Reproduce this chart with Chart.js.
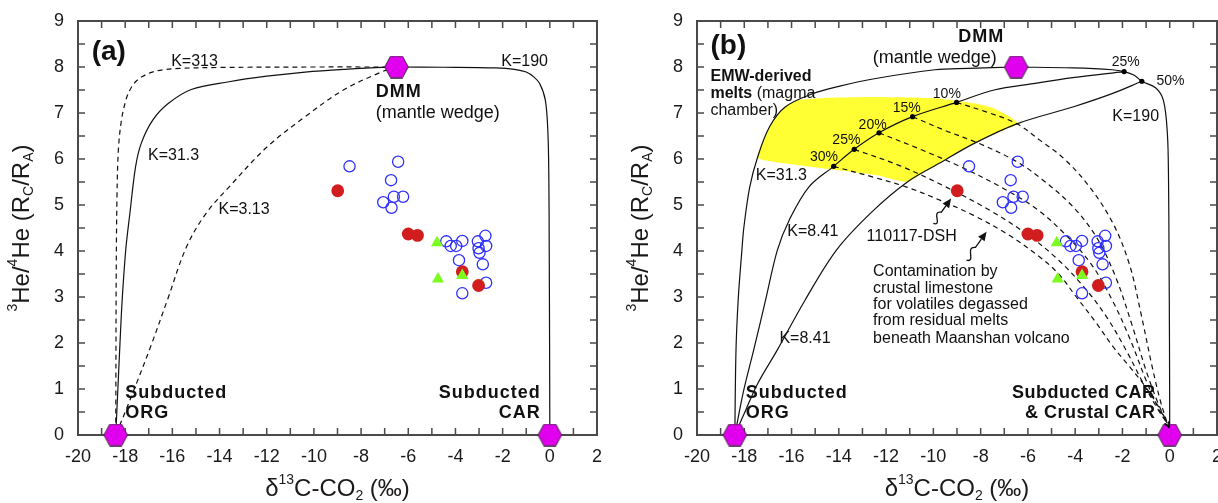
<!DOCTYPE html>
<html>
<head>
<meta charset="utf-8">
<script src="https://cdn.jsdelivr.net/npm/chart.js@4.4.0/dist/chart.umd.min.js"></script>
<style>
  html, body { margin: 0; padding: 0; background: #fff; overflow: hidden; }
  #wrap { position: relative; width: 1218px; height: 503px; overflow: hidden; }
  canvas { position: absolute; top: 0; }
  #chartA { left: 0; }
  #chartB { left: 609px; }
</style>
</head>
<body>
<div id="wrap">
  <canvas id="chartA" width="609" height="503"></canvas>
  <canvas id="chartB" width="620" height="503"></canvas>
</div>
<script>
const FAM = '"Liberation Sans", Arial, Helvetica, sans-serif';

// axis ticks
const xTickVals = [-20, -18, -16, -14, -12, -10, -8, -6, -4, -2, 0, 2];
const yTickVals = [0, 1, 2, 3, 4, 5, 6, 7, 8, 9];

// samples (same in both panels)
const blueX = [-8.49, -6.43, -6.73, -7.06, -6.61, -6.22, -6.71, -4.39, -4.2, -3.97, -3.71, -3.05, -2.73, -2.70, -3.02, -2.98, -3.85, -2.84, -2.70, -3.71];
const blueY = [5.84, 5.94, 5.54, 5.06, 5.18, 5.18, 4.94, 4.21, 4.11, 4.11, 4.22, 4.21, 4.33, 4.11, 4.06, 3.96, 3.80, 3.71, 3.31, 3.08];
const redX = [-8.99, -6.0, -5.61, -3.71, -3.02];
const redY = [5.31, 4.37, 4.34, 3.55, 3.25];
const greenX = [-4.78, -4.74, -3.71];
const greenY = [4.18, 3.39, 3.47];

// end members: DMM, ORG, CAR
const hexX = [-6.5, -18.4, 0];
const hexY = [8, 0, 0];

// panel (a) mixing curves
const k313A = [[-6.5, 8.0], [-10, 8.0], [-14, 7.99], [-15.7, 7.97], [-16.4, 7.94], [-16.85, 7.89], [-17.25, 7.8], [-17.56, 7.68], [-17.8, 7.5], [-17.97, 7.28], [-18.16, 6.84], [-18.29, 6.19], [-18.35, 5.1], [-18.38, 3.5], [-18.39, 2.0], [-18.4, 0]];
const k31A = [[-6.5, 8.0], [-7.14, 7.99], [-8.7, 7.95], [-10.37, 7.89], [-12.0, 7.8], [-13.6, 7.68], [-15.2, 7.51], [-16.19, 7.2], [-16.84, 6.84], [-17.32, 6.34], [-17.56, 5.83], [-17.8, 4.82], [-17.97, 4.06], [-18.12, 3.0], [-18.22, 2.0], [-18.31, 1.0], [-18.4, 0]];
const k3A = [[-6.5, 8.0], [-7.14, 7.89], [-8.75, 7.5], [-10.37, 6.92], [-11.99, 6.26], [-13.6, 5.39], [-14.57, 4.82], [-15.4, 4.09], [-16.2, 2.95], [-16.9, 1.95], [-17.5, 1.15], [-18.0, 0.5], [-18.4, 0]];
const k190A = [[-6.5, 8.0], [-4.5, 7.995], [-2.29, 7.98], [-1.5, 7.95], [-1.0, 7.89], [-0.67, 7.78], [-0.43, 7.64], [-0.19, 7.28], [-0.08, 6.56], [-0.04, 5.5], [-0.025, 4.0], [-0.01, 2.0], [0, 0]];

// panel (b) mixing curves
const k31B = [[-6.52, 8.0], [-8.5, 7.97], [-9.94, 7.94], [-12.44, 7.75], [-14.0, 7.58], [-15.1, 7.42], [-16.27, 7.13], [-16.93, 6.7], [-17.43, 6.05], [-17.77, 5.39], [-18.02, 4.5], [-18.1, 4.02], [-18.25, 3.0], [-18.35, 1.85], [-18.4, 0]];
const k190B = [[-6.52, 8.0], [-4.1, 7.98], [-2.44, 7.94], [-1.93, 7.9], [-1.5, 7.82], [-1.18, 7.69], [-0.6, 7.55], [-0.27, 7.28], [-0.1, 6.56], [-0.05, 5.5], [-0.03, 4.0], [-0.01, 2.0], [0, 0]];
const k841B1 = [[-18.4, 0], [-18.02, 0.98], [-17.6, 1.85], [-17.1, 2.93], [-16.6, 4.02], [-16.1, 4.67], [-15.27, 5.39], [-14.22, 5.84], [-13.35, 6.21], [-12.3, 6.57], [-10.88, 6.92], [-9.02, 7.23], [-7.43, 7.5], [-5.77, 7.64], [-4.1, 7.77], [-1.93, 7.9]];
const k841B2 = [[-18.4, 0], [-17.94, 0.54], [-17.43, 1.12], [-16.6, 1.85], [-15.43, 2.93], [-14.1, 4.02], [-12.6, 4.85], [-11.1, 5.5], [-9.77, 5.9], [-8.27, 6.34], [-6.44, 6.77], [-4.1, 7.13], [-2.44, 7.42], [-1.18, 7.69]];
const d10 = [[-9.02, 7.23], [-7.8, 7.03], [-6.48, 6.77], [-5.5, 6.41], [-4.5, 6.02], [-3.4, 5.4], [-2.4, 4.6], [-1.7, 3.7], [-1.2, 2.6], [-0.75, 1.5], [-0.4, 0.75], [-0.1, 0.25]];
const d15 = [[-10.88, 6.92], [-9.5, 6.62], [-8.03, 6.33], [-6.5, 5.95], [-5.36, 5.54], [-4.09, 4.96], [-3.1, 4.3], [-2.3, 3.45], [-1.6, 2.4], [-1.0, 1.4], [-0.5, 0.7], [-0.1, 0.25]];
const d20 = [[-12.3, 6.57], [-10.5, 6.2], [-8.8, 5.82], [-7.0, 5.35], [-5.6, 4.9], [-4.4, 4.35], [-3.3, 3.7], [-2.4, 2.9], [-1.65, 2.05], [-1.05, 1.25], [-0.5, 0.6], [-0.1, 0.25]];
const d25 = [[-13.35, 6.21], [-11.4, 5.85], [-9.5, 5.4], [-7.6, 4.88], [-6.0, 4.35], [-4.7, 3.8], [-3.6, 3.2], [-2.65, 2.55], [-1.8, 1.8], [-1.15, 1.15], [-0.55, 0.6], [-0.1, 0.25]];
const d30 = [[-14.22, 5.84], [-12.5, 5.6], [-11.13, 5.39], [-9.7, 5.1], [-8.32, 4.78], [-6.91, 4.38], [-5.5, 3.87], [-4.7, 3.5], [-3.95, 3.0], [-3.1, 2.43], [-2.4, 1.92], [-1.69, 1.48], [-1.13, 1.12], [-0.56, 0.69], [-0.1, 0.25]];
const pctX = [-9.02, -10.88, -12.3, -13.35, -14.22, -1.93, -1.18];
const pctY = [7.23, 6.92, 6.57, 6.21, 5.84, 7.9, 7.69];
const yellow = [[-15.8, 7.28], [-14.5, 7.33], [-12.44, 7.35], [-9.94, 7.32], [-8.27, 7.21], [-7.43, 7.1], [-6.77, 6.92], [-6.44, 6.77],
  [-7.3, 6.57], [-8.27, 6.34], [-9.0, 6.13], [-9.77, 5.9], [-10.45, 5.7], [-11.1, 5.5], [-12.44, 5.65], [-14.1, 5.76], [-15.77, 5.87], [-17.43, 6.02],
  [-17.2, 6.4], [-16.93, 6.7], [-16.6, 6.95], [-16.27, 7.13], [-15.8, 7.28]];

// text annotations
const labelsA = [
  { t: '(a)', x: -19.42, y: 8.33, size: 28, bold: true, align: 'left' },
  { t: 'K=313', x: -15.06, y: 8.12 },
  { t: 'K=190', x: -1.07, y: 8.12 },
  { t: 'DMM', x: -7.38, y: 7.46, size: 18, bold: true, align: 'left', sp: 1 },
  { t: '(mantle wedge)', x: -7.38, y: 7.0, size: 18, align: 'left' },
  { t: 'K=31.3', x: -15.95, y: 6.08 },
  { t: 'K=3.13', x: -12.96, y: 4.89 },
  { t: 'Subducted', x: -18.0, y: 0.91, size: 18, bold: true, align: 'left', sp: 1 },
  { t: 'ORG', x: -18.0, y: 0.48, size: 18, bold: true, align: 'left', sp: 1 },
  { t: 'Subducted', x: -0.38, y: 0.91, size: 18, bold: true, align: 'right', sp: 1 },
  { t: 'CAR', x: -0.38, y: 0.48, size: 18, bold: true, align: 'right', sp: 1 }
];
const labelsB = [
  { t: '(b)', x: -19.43, y: 8.44, size: 28, bold: true, align: 'left' },
  { t: 'DMM', x: -7.97, y: 8.65, size: 18, bold: true, sp: 1 },
  { t: '(mantle wedge)', x: -9.94, y: 8.2, size: 18 },
  { t: 'EMW-derived', x: -19.43, y: 7.8, bold: true, align: 'left' },
  { runs: [{ t: 'melts', bold: true }, { t: ' (magma' }], x: -19.43, y: 7.42, align: 'left' },
  { t: 'chamber)', x: -19.43, y: 7.06, align: 'left' },
  { t: 'K=31.3', x: -16.43, y: 5.65 },
  { t: 'K=8.41', x: -15.1, y: 4.42 },
  { t: 'K=8.41', x: -15.43, y: 2.1 },
  { t: 'K=190', x: -1.44, y: 6.92 },
  { t: '25%', x: -1.86, y: 8.11, size: 14 },
  { t: '50%', x: 0.03, y: 7.69, size: 14 },
  { t: '10%', x: -9.43, y: 7.4, size: 14 },
  { t: '15%', x: -11.13, y: 7.1, size: 14 },
  { t: '20%', x: -12.57, y: 6.73, size: 14 },
  { t: '25%', x: -13.68, y: 6.41, size: 14 },
  { t: '30%', x: -14.63, y: 6.03, size: 14 },
  { t: '110117-DSH', x: -10.92, y: 4.32 },
  { t: 'Contamination by', x: -12.55, y: 3.55, align: 'left' },
  { t: 'crustal limestone', x: -12.55, y: 3.19, align: 'left' },
  { t: 'for volatiles degassed', x: -12.55, y: 2.84, align: 'left' },
  { t: 'from residual melts', x: -12.55, y: 2.48, align: 'left' },
  { t: 'beneath Maanshan volcano', x: -12.55, y: 2.1, align: 'left' },
  { t: 'Subducted', x: -17.94, y: 0.91, size: 18, bold: true, align: 'left', sp: 1 },
  { t: 'ORG', x: -17.94, y: 0.48, size: 18, bold: true, align: 'left', sp: 1 },
  { t: 'Subducted CAR', x: -0.6, y: 0.91, size: 18, bold: true, align: 'right', sp: 0.5 },
  { t: '& Crustal CAR', x: -0.6, y: 0.48, size: 18, bold: true, align: 'right', sp: 0.5 }
];
const wavyB = [
  { from: [-10.0, 4.6], to: [-9.25, 5.14] },
  { from: [-8.6, 3.8], to: [-7.75, 4.42] }
];

const xTitle = [{ t: 'δ' }, { t: '13', s: 'sup' }, { t: 'C-CO' }, { t: '2', s: 'sub' }, { t: ' (‰)' }];
const yTitle = [{ t: '3', s: 'sup' }, { t: 'He/' }, { t: '4', s: 'sup' }, { t: 'He (R' }, { t: 'C', s: 'sub' }, { t: '/R' }, { t: 'A', s: 'sub' }, { t: ')' }];

// hexagon marker
function hexagon() {
  const c = document.createElement('canvas');
  c.width = 25; c.height = 23;
  const g = c.getContext('2d');
  g.beginPath();
  g.moveTo(0.7, 11.5); g.lineTo(6.5, 0.7); g.lineTo(18.5, 0.7);
  g.lineTo(24.3, 11.5); g.lineTo(18.5, 22.3); g.lineTo(6.5, 22.3);
  g.closePath();
  g.fillStyle = '#e100ee'; g.fill();
  g.strokeStyle = '#3a2a3a'; g.lineWidth = 1; g.stroke();
  return c;
}
const HEX = hexagon();

const xy = (xs, ys) => xs.map((x, i) => ({ x: x, y: ys[i] }));
const pairs = arr => arr.map(p => ({ x: p[0], y: p[1] }));

function curve(arr, dashed) {
  return {
    data: pairs(arr), showLine: true, borderColor: '#111', borderWidth: 1.2,
    borderDash: dashed ? [5, 4] : [], pointRadius: 0, tension: 0.35, fill: false, order: 5
  };
}

function sampleSets() {
  return [
    { data: xy(blueX, blueY), pointStyle: 'circle', pointRadius: 5.6, borderColor: '#2f2fff', borderWidth: 1.3, backgroundColor: 'rgba(0,0,0,0)', order: 3 },
    { data: xy(redX, redY), pointStyle: 'circle', pointRadius: 6.4, borderWidth: 0, backgroundColor: '#d11d1d', order: 2 },
    { data: xy(greenX, greenY), pointStyle: 'triangle', pointRadius: 7, borderWidth: 0, backgroundColor: '#7dfc1f', order: 1 },
    { data: xy(hexX, hexY), pointStyle: HEX, pointRadius: 11, clip: false, order: 0 }
  ];
}

function richText(ctx, parts, cx, cy, rot, size) {
  const big = size + 'px ' + FAM, small = Math.round(size * 0.6) + 'px ' + FAM;
  ctx.save();
  ctx.translate(cx, cy);
  ctx.rotate(rot);
  let w = 0;
  parts.forEach(p => { ctx.font = p.s ? small : big; p.w = ctx.measureText(p.t).width; w += p.w; });
  let xx = -w / 2;
  ctx.textBaseline = 'middle';
  ctx.textAlign = 'left';
  ctx.fillStyle = '#1a1a1a';
  parts.forEach(p => {
    ctx.font = p.s ? small : big;
    const dy = p.s === 'sup' ? -size * 0.36 : p.s === 'sub' ? size * 0.3 : 0;
    ctx.fillText(p.t, xx, dy);
    xx += p.w;
  });
  ctx.restore();
}

function drawLabel(ctx, L, x, y) {
  const size = L.size || 16;
  const runs = L.runs || [{ t: L.t, bold: L.bold }];
  ctx.save();
  ctx.letterSpacing = (L.sp || 0) + 'px';
  ctx.textBaseline = 'middle';
  ctx.textAlign = 'left';
  ctx.fillStyle = '#111';
  let w = 0;
  runs.forEach(r => { ctx.font = (r.bold ? 'bold ' : '') + size + 'px ' + FAM; r.w = ctx.measureText(r.t).width; w += r.w; });
  let xx = L.align === 'left' ? x : L.align === 'right' ? x - w : x - w / 2;
  runs.forEach(r => { ctx.font = (r.bold ? 'bold ' : '') + size + 'px ' + FAM; ctx.fillText(r.t, xx, y); xx += r.w; });
  ctx.restore();
}

function wavyArrow(ctx, x0, y0, x1, y1) {
  const dx = x1 - x0, dy = y1 - y0, L = Math.hypot(dx, dy);
  const ux = dx / L, uy = dy / L, nx = -uy, ny = ux;
  const P = (t, o) => [x0 + ux * L * t + nx * o, y0 + uy * L * t + ny * o];
  const a = P(0.1, 10), b = P(0.3, -10), c = P(0.45, 0);
  const hb = [x1 - ux * 9, y1 - uy * 9];
  ctx.beginPath();
  ctx.moveTo(x0, y0);
  ctx.bezierCurveTo(a[0], a[1], b[0], b[1], c[0], c[1]);
  ctx.lineTo(hb[0], hb[1]);
  ctx.stroke();
  ctx.beginPath();
  ctx.moveTo(x1, y1);
  ctx.lineTo(hb[0] + nx * 4, hb[1] + ny * 4);
  ctx.lineTo(hb[0] - nx * 4, hb[1] - ny * 4);
  ctx.closePath();
  ctx.fill();
}

function decorPlugin(labels, wavy, arrowCurves) {
  return {
    id: 'decor',
    beforeDatasetsDraw(chart) {
      const { ctx, chartArea: a, scales: { x, y } } = chart;
      ctx.save();
      ctx.strokeStyle = '#4a4a4a';
      ctx.lineWidth = 1.5;
      ctx.beginPath();
      for (let v = -19; v <= 1; v++) {
        const px = x.getPixelForValue(v);
        ctx.moveTo(px, a.bottom); ctx.lineTo(px, a.bottom - 7);
        ctx.moveTo(px, a.top); ctx.lineTo(px, a.top + 7);
      }
      for (let v = 0.5; v < 9; v += 0.5) {
        const py = y.getPixelForValue(v);
        ctx.moveTo(a.left, py); ctx.lineTo(a.left + 7, py);
        ctx.moveTo(a.right, py); ctx.lineTo(a.right - 7, py);
      }
      ctx.stroke();
      ctx.lineWidth = 2;
      ctx.strokeRect(a.left, a.top, a.right - a.left, a.bottom - a.top);
      ctx.restore();
    },
    afterDatasetsDraw(chart) {
      const { ctx, chartArea: a, scales: { x, y } } = chart;
      labels.forEach(L => drawLabel(ctx, L, x.getPixelForValue(L.x), y.getPixelForValue(L.y)));
      ctx.save();
      ctx.strokeStyle = '#111';
      ctx.fillStyle = '#111';
      ctx.lineWidth = 1.3;
      wavy.forEach(w => wavyArrow(ctx, x.getPixelForValue(w.from[0]), y.getPixelForValue(w.from[1]),
        x.getPixelForValue(w.to[0]), y.getPixelForValue(w.to[1])));
      ctx.lineWidth = 1.1;
      arrowCurves.forEach(c => {
        const p = c[c.length - 1], q = c[c.length - 2];
        const x1 = x.getPixelForValue(p[0]), y1 = y.getPixelForValue(p[1]);
        const x0 = x.getPixelForValue(q[0]), y0 = y.getPixelForValue(q[1]);
        const L = Math.hypot(x1 - x0, y1 - y0), ux = (x1 - x0) / L, uy = (y1 - y0) / L;
        const tx = x1 + ux * 4, ty = y1 + uy * 4;
        ctx.beginPath();
        ctx.moveTo(tx - ux * 5 - uy * 2.5, ty - uy * 5 + ux * 2.5);
        ctx.lineTo(tx, ty);
        ctx.lineTo(tx - ux * 5 + uy * 2.5, ty - uy * 5 - ux * 2.5);
        ctx.stroke();
      });
      ctx.restore();
      richText(ctx, xTitle, (a.left + a.right) / 2, a.bottom + 54, 0, 24);
      richText(ctx, yTitle, a.left - 56, (a.top + a.bottom) / 2, -Math.PI / 2, 24);
    }
  };
}

function makeChart(id, datasets, yWidth, pad, plugin) {
  return new Chart(document.getElementById(id), {
    type: 'scatter',
    data: { datasets: datasets },
    options: {
      responsive: false,
      animation: false,
      events: [],
      layout: { padding: pad },
      plugins: { legend: { display: false }, tooltip: { enabled: false } },
      scales: {
        x: {
          type: 'linear', min: -20, max: 2,
          grid: { display: false, drawTicks: false }, border: { display: false },
          ticks: { font: { family: FAM, size: 18 }, color: '#1a1a1a', padding: 11, maxRotation: 0, autoSkip: false },
          afterBuildTicks: s => { s.ticks = xTickVals.map(v => ({ value: v })); },
          afterFit: s => { s.height = 68; s.paddingLeft = 0; s.paddingRight = 0; }
        },
        y: {
          type: 'linear', min: 0, max: 9,
          grid: { display: false, drawTicks: false }, border: { display: false },
          ticks: { font: { family: FAM, size: 18 }, color: '#1a1a1a', padding: 14, autoSkip: false },
          afterBuildTicks: s => { s.ticks = yTickVals.map(v => ({ value: v })); },
          afterFit: s => { s.width = yWidth; s.paddingTop = 0; s.paddingBottom = 0; }
        }
      }
    },
    plugins: [plugin]
  });
}

makeChart('chartA',
  [curve(k313A, true), curve(k31A, false), curve(k3A, true), curve(k190A, false)].concat(sampleSets()),
  78, { left: 0, right: 9, top: 21, bottom: 0 },
  decorPlugin(labelsA, [], []));

makeChart('chartB',
  [
    { data: pairs(yellow), showLine: true, fill: 'shape', backgroundColor: '#ffff33', borderColor: 'rgba(0,0,0,0)', borderWidth: 0, pointRadius: 0, tension: 0.2, order: 10 },
    curve(k31B, false), curve(k190B, false), curve(k841B1, false), curve(k841B2, false),
    curve(d10, true), curve(d15, true), curve(d20, true), curve(d25, true), curve(d30, true),
    { data: xy(pctX, pctY), pointStyle: 'circle', pointRadius: 2.6, borderWidth: 0, backgroundColor: '#000', order: 4 }
  ].concat(sampleSets()),
  88, { left: 0, right: 12, top: 21, bottom: 0 },
  decorPlugin(labelsB, wavyB, [d10, d15, d20, d25, d30]));
</script>
</body>
</html>
